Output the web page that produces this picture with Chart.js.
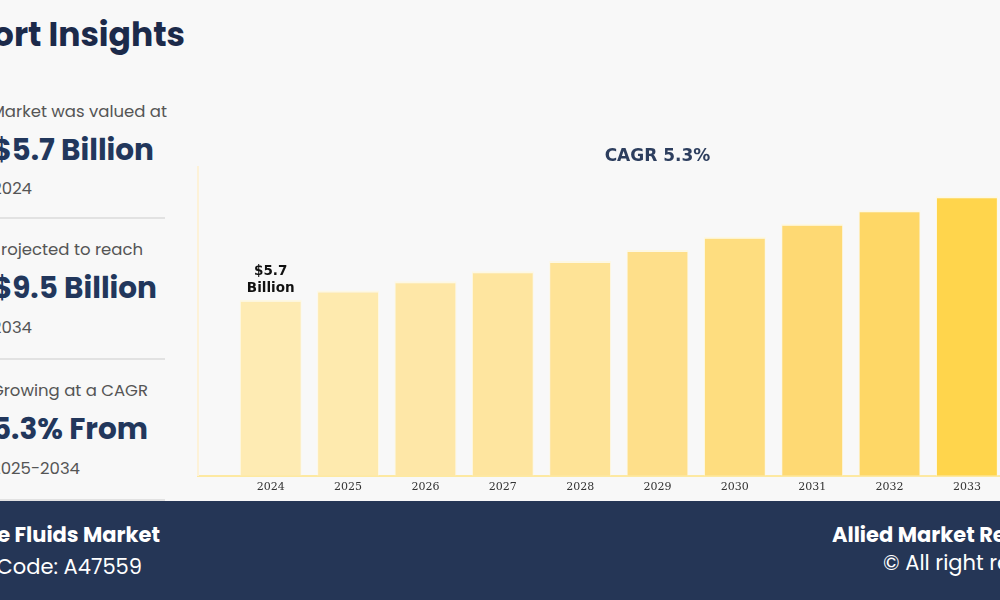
<!DOCTYPE html>
<html>
<head>
<meta charset="utf-8">
<script src="https://cdn.jsdelivr.net/npm/chart.js@4.4.1/dist/chart.umd.min.js"></script>
<style>
  html, body { margin: 0; padding: 0; }
  body { width: 1000px; height: 600px; overflow: hidden; position: relative; background: #f8f8f8; font-family: Poppins, "Open Sans", sans-serif; }
  .r { position: absolute; white-space: nowrap; text-align: right; }
  .l { position: absolute; white-space: nowrap; }
  .title { font-weight: 700; font-size: 33px; color: #1c2a4a; right: 815px; top: 10px; }
  .small { font-size: 16.5px; color: #555; }
  .big { font-weight: 700; font-size: 29.5px; color: #22375c; }
  .sep { position: absolute; left: 0; width: 165px; height: 2px; background: #e2e2e2; }
  #chartBox { position: absolute; left: 150px; top: 130px; width: 1014px; height: 372px; }
  footer { position: absolute; left: 0; top: 501px; width: 1000px; height: 99px; background: #253656; color: #fff; }
  footer .b { font-weight: 700; font-size: 21px; }
  footer .n { font-size: 21px; }
</style>
</head>
<body>
<div class="r title">Report Insights</div>

<div class="r small" style="right:833px; top:99px;">Market was valued at</div>
<div class="r big" style="right:846px; top:128px;">$5.7 Billion</div>
<div class="r small" style="right:968px; top:176px;">2024</div>
<div class="sep" style="top:217px;"></div>

<div class="r small" style="right:857px; top:237px;">rojected to reach</div>
<div class="r big" style="right:843px; top:266px;">$9.5 Billion</div>
<div class="r small" style="right:968px; top:315px;">2034</div>
<div class="sep" style="top:358px;"></div>

<div class="r small" style="right:852px; top:378px;">Growing at a CAGR</div>
<div class="r big" style="right:852px; top:407px;">5.3% From</div>
<div class="r small" style="right:920px; top:456px;">2025-2034</div>
<div class="sep" style="top:499px;"></div>

<div id="chartBox"><canvas id="marketChart"></canvas></div>

<footer>
  <div class="r b" style="right:840px; top:18px;">e Fluids Market</div>
  <div class="r n" style="right:858px; top:50px;">Code: A47559</div>
  <div class="l b" style="left:832px; top:18px;">Allied Market Research</div>
  <div class="l n" style="left:883px; top:46px;">© All right reserved</div>
</footer>

<script>
// --- DATA ---
const years = [2024, 2025, 2026, 2027, 2028, 2029, 2030, 2031, 2032, 2033, 2034];
const marketValues = [5.7, 6.0, 6.3, 6.62, 6.95, 7.31, 7.74, 8.16, 8.59, 9.05, 9.5];
const barColors = ['#feebb3', '#feeaae', '#fee7a7', '#fee59f', '#fee396', '#fedf8a', '#fedd7f', '#fed973', '#fed766', '#ffd54c', '#ffd23f'];
const chartTitle = 'CAGR 5.3%';
const firstBarLabel = ['$5.7', 'Billion'];

// label above the first bar
const firstBarLabelPlugin = {
    id: 'firstBarLabel',
    afterDatasetsDraw(chart) {
        const bar = chart.getDatasetMeta(0).data[0];
        const ctx = chart.ctx;
        ctx.save();
        ctx.font = 'bold 13.5px "DejaVu Sans"';
        ctx.fillStyle = '#111';
        ctx.textAlign = 'center';
        ctx.textBaseline = 'middle';
        ctx.fillText(firstBarLabel[0], bar.x, bar.y - 28);
        ctx.fillText(firstBarLabel[1], bar.x, bar.y - 11);
        ctx.restore();
    }
};

document.addEventListener('DOMContentLoaded', () => {
    new Chart(document.getElementById('marketChart').getContext('2d'), {
        type: 'bar',
        data: {
            datasets: [{
                data: years.map((yr, i) => ({ x: yr, y: marketValues[i] })),
                backgroundColor: barColors,
                borderColor: 'rgba(255, 248, 220, 0.7)',
                borderWidth: { top: 2, left: 1, right: 1, bottom: 0 },
                barPercentage: 0.8,
                categoryPercentage: 1.0
            }]
        },
        options: {
            responsive: true, maintainAspectRatio: false,
            animation: false,
            layout: { padding: { left: 48, right: 47, top: 0, bottom: 3 } },
            plugins: {
                legend: { display: false },
                tooltip: { enabled: false },
                title: {
                    display: true, text: chartTitle, color: '#2d3e5e',
                    font: { family: 'DejaVu Sans', size: 17, weight: 'bold' },
                    padding: { top: 16, bottom: 0.4 }
                }
            },
            scales: {
                x: {
                    type: 'linear', min: 2023.06, max: 2034.94, offset: false,
                    grid: { display: false, drawTicks: false },
                    border: { display: true, color: '#fde9a2', width: 2 },
                    // keep only the whole years so the bar width follows the yearly spacing
                    afterBuildTicks: scale => { scale.ticks = scale.ticks.filter(t => Number.isInteger(t.value)); },
                    ticks: {
                        stepSize: 1, padding: 5, color: '#333',
                        font: { family: 'DejaVu Serif', size: 11 },
                        callback: v => String(v)
                    }
                },
                y: {
                    min: 0, max: 10,
                    grid: { display: false, drawTicks: false },
                    border: { display: true, color: '#fdf2d8', width: 2 },
                    ticks: { display: false }
                }
            }
        },
        plugins: [firstBarLabelPlugin]
    });
});
</script>
</body>
</html>
